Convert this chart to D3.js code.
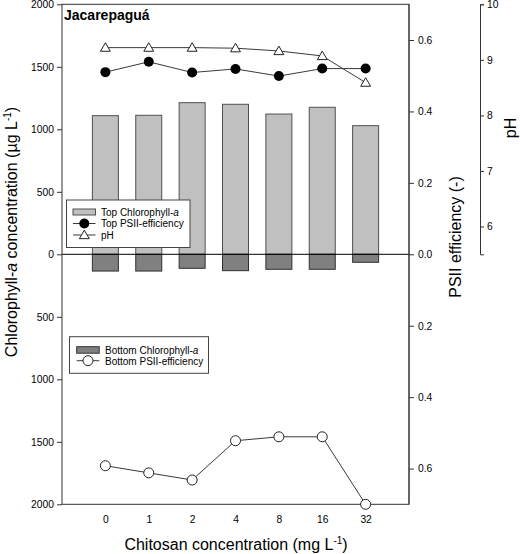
<!DOCTYPE html>
<html><head><meta charset="utf-8">
<script src="https://cdn.jsdelivr.net/npm/d3@7"></script>
<style>
body{margin:0;background:#fff;}
text{font-family:"Liberation Sans",Arial,sans-serif;fill:#000;}
</style></head>
<body><svg id="c" width="520" height="554"></svg>
<script>
const categories = ["0","1","2","4","8","16","32"];
const topChl = [1109,1112,1213,1200,1122,1176,1029];
const bottomChl = [134,134,112,131,120,120,64];
const topPSII = [0.510,0.539,0.509,0.519,0.499,0.520,0.520];
const bottomPSII = [0.592,0.612,0.632,0.522,0.511,0.511,0.700];
const pH = [9.22,9.22,9.22,9.21,9.16,9.07,8.59];
const chlTicks = [-2000,-1500,-1000,-500,0,500,1000,1500,2000];
const psiiTicks = [-0.6,-0.4,-0.2,0,0.2,0.4,0.6];
const pHTicks = [6,7,8,9,10];

const svg = d3.select("#c");
const L=62, R=409, T=4.3, B=504.3, Z=254.3;
const x = d3.scaleLinear().domain([-1,7]).range([L,R]);
const yChl = d3.scaleLinear().domain([-2000,2000]).range([B,T]);
const yPS = d3.scaleLinear().domain([-0.7,0.7]).range([B,T]);
const yPH = d3.scaleLinear().domain([5.5,10]).range([Z,T]);
const lineCol="#3a3a3a";
const bw=26;

// bars
const g=svg.append("g");
g.selectAll(".tb").data(topChl).join("rect")
 .attr("x",(d,i)=>x(i)-bw/2).attr("width",bw)
 .attr("y",d=>yChl(d)).attr("height",d=>yChl(0)-yChl(d))
 .attr("fill","#c0c0c0").attr("stroke","#505050").attr("stroke-width",1);
g.selectAll(".bb").data(bottomChl).join("rect")
 .attr("x",(d,i)=>x(i)-bw/2).attr("width",bw)
 .attr("y",yChl(0)).attr("height",d=>yChl(-d)-yChl(0))
 .attr("fill","#808080").attr("stroke","#303030").attr("stroke-width",1);

// zero line
svg.append("line").attr("x1",L).attr("x2",R).attr("y1",yChl(0)).attr("y2",yChl(0)).attr("stroke","#000").attr("stroke-width",1);

// frame
svg.append("rect").attr("x",L).attr("y",T).attr("width",R-L).attr("height",B-T).attr("fill","none").attr("stroke","#333").attr("stroke-width",1);

// lines
const ln=(ys,data)=>d3.line().x((d,i)=>x(i)).y(d=>ys(d))(data);
svg.append("path").attr("d",ln(yPH,pH)).attr("fill","none").attr("stroke",lineCol);
svg.append("path").attr("d",ln(yPS,topPSII)).attr("fill","none").attr("stroke",lineCol);
svg.append("path").attr("d",ln(v=>yPS(-v),bottomPSII)).attr("fill","none").attr("stroke",lineCol);

const tri=d3.symbol().type(d3.symbolTriangle).size(42);
svg.selectAll(".ph").data(pH).join("path")
 .attr("d",tri).attr("transform",(d,i)=>`translate(${x(i)},${yPH(d)+0.8})`)
 .attr("fill","#fff").attr("stroke","#222");
svg.selectAll(".tp").data(topPSII).join("circle")
 .attr("cx",(d,i)=>x(i)).attr("cy",d=>yPS(d)).attr("r",5).attr("fill","#000");
svg.selectAll(".bp").data(bottomPSII).join("circle")
 .attr("cx",(d,i)=>x(i)).attr("cy",d=>yPS(-d)).attr("r",5).attr("fill","#fff").attr("stroke","#222");

// axes
const fs="10.3px";
const axL=svg.append("g").attr("transform",`translate(${L},0)`)
 .call(d3.axisLeft(yChl).tickValues(chlTicks).tickFormat(d=>Math.abs(d)).tickSize(5).tickPadding(3));
const axR=svg.append("g").attr("transform",`translate(${R},0)`)
 .call(d3.axisRight(yPS).tickValues(psiiTicks).tickFormat(d=>Math.abs(d).toFixed(1)).tickSize(5).tickPadding(4));
const axP=svg.append("g").attr("transform",`translate(480,0)`)
 .call(d3.axisRight(yPH).tickValues(pHTicks).tickFormat(d3.format("d")).tickSize(4).tickPadding(3));
const axB=svg.append("g").attr("transform",`translate(0,${B})`)
 .call(d3.axisBottom(x).tickValues(d3.range(categories.length)).tickFormat(i=>categories[i]).tickSize(0).tickPadding(11));
[axL,axR,axP,axB].forEach(a=>{
  a.selectAll("text").style("font-size",fs);
  a.selectAll("line").attr("stroke","#333");
  a.select(".domain").attr("stroke","#333");
  a.attr("font-family",null);
});
axL.select(".domain").remove();
axB.select(".domain").remove();
axR.select(".domain").remove();
svg.append("line").attr("x1",R).attr("x2",R).attr("y1",T).attr("y2",B).attr("stroke","#333");

// titles
svg.append("text").attr("x",64).attr("y",20).style("font-size","14px").style("font-weight","bold").text("Jacarepaguá");

const xt=svg.append("text").attr("x",236).attr("y",550).attr("text-anchor","middle").style("font-size","16px");
xt.append("tspan").text("Chitosan concentration (mg L");
xt.append("tspan").attr("dy",-6).style("font-size","10px").text("-1");
xt.append("tspan").attr("dy",6).text(")");

const yt=svg.append("text").attr("transform","translate(17,232) rotate(-90)").attr("text-anchor","middle").style("font-size","16px");
yt.append("tspan").text("Chlorophyll-");
yt.append("tspan").style("font-style","italic").text("a");
yt.append("tspan").text(" concentration (µg L");
yt.append("tspan").attr("dy",-6).style("font-size","10px").text("-1");
yt.append("tspan").attr("dy",6).text(")");

svg.append("text").attr("transform","translate(461,237) rotate(-90)").attr("text-anchor","middle").style("font-size","16px").text("PSII efficiency (-)");
svg.append("text").attr("transform","translate(516,128) rotate(-90)").attr("text-anchor","middle").style("font-size","16px").text("pH");

// legend 1
const l1=svg.append("g");
l1.append("rect").attr("x",66.5).attr("y",200).attr("width",123.5).attr("height",47.5).attr("fill","#fff").attr("stroke","#444");
l1.append("rect").attr("x",73).attr("y",209).attr("width",22.5).attr("height",6).attr("fill","#c0c0c0").attr("stroke","#505050");
l1.append("line").attr("x1",73).attr("x2",95.5).attr("y1",223.5).attr("y2",223.5).attr("stroke",lineCol);
l1.append("circle").attr("cx",84.3).attr("cy",223.5).attr("r",5).attr("fill","#000");
l1.append("line").attr("x1",73).attr("x2",95.5).attr("y1",235).attr("y2",235).attr("stroke",lineCol);
l1.append("path").attr("d",tri).attr("transform","translate(84.3,235.8)").attr("fill","#fff").attr("stroke","#222");
const t1=l1.append("text").attr("x",101).attr("y",215.8).style("font-size","10px");
t1.append("tspan").text("Top Chlorophyll-");t1.append("tspan").style("font-style","italic").text("a");
l1.append("text").attr("x",101).attr("y",227).style("font-size","10px").text("Top PSII-efficiency");
l1.append("text").attr("x",101).attr("y",238.5).style("font-size","10px").text("pH");

// legend 2
const l2=svg.append("g");
l2.append("rect").attr("x",69.5).attr("y",336.7).attr("width",139).attr("height",36.6).attr("fill","#fff").attr("stroke","#444");
l2.append("rect").attr("x",76.7).attr("y",346.7).attr("width",22.5).attr("height",6.5).attr("fill","#808080").attr("stroke","#303030");
l2.append("line").attr("x1",76.7).attr("x2",99.3).attr("y1",360.7).attr("y2",360.7).attr("stroke",lineCol);
l2.append("circle").attr("cx",88).attr("cy",360.7).attr("r",5).attr("fill","#fff").attr("stroke","#222");
const t2=l2.append("text").attr("x",105).attr("y",353.5).style("font-size","10px");
t2.append("tspan").text("Bottom Chlorophyll-");t2.append("tspan").style("font-style","italic").text("a");
l2.append("text").attr("x",105).attr("y",364.5).style("font-size","10px").text("Bottom PSII-efficiency");
</script></body></html>
